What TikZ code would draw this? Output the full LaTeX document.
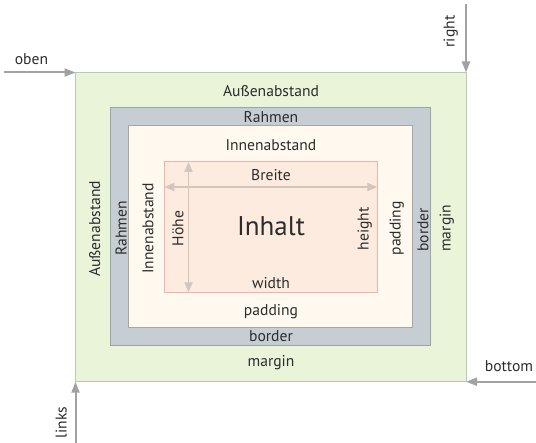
\documentclass[tikz,border=0pt]{standalone}
\usepackage{fontspec}
\setmainfont{PT Sans}
\usetikzlibrary{arrows.meta}
\definecolor{marginfill}{HTML}{E9F4D9}
\definecolor{marginline}{HTML}{BDC8B2}
\definecolor{borderfill}{HTML}{C6CDD3}
\definecolor{borderline}{HTML}{9AA3A9}
\definecolor{paddingfill}{HTML}{FFF9EF}
\definecolor{paddingline}{HTML}{A6A6A2}
\definecolor{contentfill}{HTML}{FDEBE0}
\definecolor{contentline}{HTML}{F6B2A9}
\definecolor{arrowgray}{HTML}{A2A2A2}
\definecolor{dimgray}{HTML}{D2C6BE}
\definecolor{textcol}{HTML}{2C2C2C}
\begin{document}
\begin{tikzpicture}[x=1pt,y=-1pt,
  box/.style={line width=1pt, inner sep=0pt, outer sep=0pt, anchor=center},
  lbl/.style={font=\fontsize{15.6}{18}\selectfont, text=textcol, inner sep=0pt, anchor=base},
  vlbl/.style={lbl, rotate=90},
  biglbl/.style={lbl, font=\fontsize{27}{31}\selectfont},
  outarrow/.style={draw=arrowgray, line width=2pt, -{Triangle[length=11pt,width=8pt]}},
  dimarrow/.style={draw=dimgray, line width=1.8pt, {Triangle[length=10pt,width=8pt]}-{Triangle[length=10pt,width=8pt]}}
]
\useasboundingbox (0,0) rectangle (536,443);
% boxes
\node[box, draw=marginline, fill=marginfill, minimum width=390.5pt, minimum height=309.2pt] (margin) at (270.75,227.1) {};
\node[box, draw=borderline, fill=borderfill, minimum width=319.6pt, minimum height=238.5pt] (border) at (270.5,226.75) {};
\node[box, draw=paddingline, fill=paddingfill, minimum width=284pt, minimum height=202.3pt] (padding) at (270.7,226.85) {};
\node[box, draw=contentline, fill=contentfill, minimum width=213pt, minimum height=130.3pt] (content) at (270.8,227.15) {};
% dimension arrows
\coordinate (bL) at (164.3,187);
\coordinate (bR) at (377.3,187);
\coordinate (hT) at (188.5,162);
\coordinate (hB) at (188.5,292.3);
\draw[dimarrow] (bL) -- (bR);
\draw[dimarrow] (hT) -- (hB);
% outer arrows
\coordinate (obenStart) at (4,72.5);
\coordinate (rightStart) at (466,4);
\coordinate (bottomStart) at (536,381.7);
\coordinate (linksStart) at (75.5,443);
\draw[outarrow] (obenStart) -- (margin.north west);
\draw[outarrow] (rightStart) -- (margin.north east);
\draw[outarrow] (bottomStart) -- (margin.south east);
\draw[outarrow] (linksStart) -- (margin.south west);
% horizontal labels
\node[lbl] (tAussen) at (271,97) {Außenabstand};
\node[lbl] (tRahmen) at (271,122.7) {Rahmen};
\node[lbl] (tInnen) at (271,151) {Innenabstand};
\node[lbl] (tBreite) at (271,180.7) {Breite};
\node[biglbl] (tInhalt) at (271,235.7) {Inhalt};
\node[lbl] (tWidth) at (271,288.3) {width};
\node[lbl] (tPadding) at (271,315.5) {padding};
\node[lbl] (tBorder) at (271,341.7) {border};
\node[lbl] (tMargin) at (271,367) {margin};
\node[lbl] (tOben) at (31.5,65) {oben};
\node[lbl] (tBottom) at (509,371.7) {bottom};
% vertical labels
\node[vlbl] (vAussen) at (100,229) {Außenabstand};
\node[vlbl] (vRahmen) at (126.7,228.5) {Rahmen};
\node[vlbl] (vInnen) at (153.3,228.5) {Innenabstand};
\node[vlbl] (vHoehe) at (183.3,228.5) {Höhe};
\node[vlbl] (vHeight) at (368.5,229) {height};
\node[vlbl] (vPadding) at (400.5,228.3) {padding};
\node[vlbl] (vBorder) at (428.3,229.8) {border};
\node[vlbl] (vMargin) at (450.5,228.3) {margin};
\node[vlbl] (vRight) at (454.7,31.5) {right};
\node[vlbl] (vLinks) at (66.7,422.5) {links};
\end{tikzpicture}
\end{document}
